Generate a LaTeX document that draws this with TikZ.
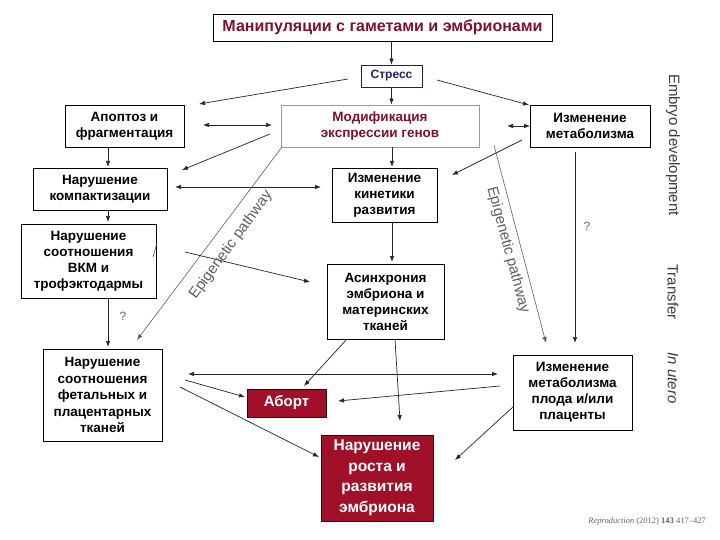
\documentclass[tikz,border=0pt]{standalone}
\usepackage{fontspec}
\setmainfont{Liberation Sans}
\newfontfamily\citefont{Liberation Serif}
\usetikzlibrary{arrows.meta}
\definecolor{maroon}{RGB}{128,16,48}
\definecolor{boxred}{RGB}{160,16,40}
\definecolor{pinkb}{RGB}{205,130,150}
\definecolor{navy}{RGB}{30,35,90}
\definecolor{lbl}{RGB}{60,60,60}
\definecolor{epi}{RGB}{95,95,95}
\begin{document}
\begin{tikzpicture}[x=1pt,y=-1pt,
  box/.style={draw=black, line width=0.9pt, fill=white, inner sep=0pt, align=center, font=\bfseries\fontsize{13.5}{16}\selectfont},
  redbox/.style={draw=black!70!boxred, fill=boxred, text=white, inner sep=0pt, align=center, line width=0.8pt},
  arr/.style={-{Latex[length=6pt,width=4.5pt]}, line width=0.7pt, draw=black!85},
  darr/.style={{Latex[length=6pt,width=4.5pt]}-{Latex[length=6pt,width=4.5pt]}, line width=0.7pt, draw=black!85},
  epiarr/.style={arr, draw=epi, line width=0.6pt},
  epitext/.style={text=epi, font=\fontsize{15}{15}\selectfont, inner sep=0pt},
  side/.style={text=lbl, rotate=-90, inner sep=0pt, font=\fontsize{15}{15}\selectfont},
  qmark/.style={text=black!60, inner sep=0pt, font=\fontsize{12}{12}\selectfont}]
\useasboundingbox (0,0) rectangle (720,540);
\fill[white] (0,0) rectangle (720,540);

% boxes
\node[box, text=maroon, font=\bfseries\fontsize{16}{18}\selectfont, minimum width=339pt, minimum height=27pt] (title) at (382.5,27.5) {Манипуляции с гаметами и эмбрионами};
\node[box, draw=navy, line width=0.7pt, text=navy, font=\bfseries\fontsize{12}{14}\selectfont, minimum width=61pt, minimum height=22pt] (stress) at (391.5,76) {Стресс};
\node[box, minimum width=119pt, minimum height=42pt] (apop) at (124.5,126) {Апоптоз и\\фрагментация};
\node[box, draw=pinkb, text=maroon, minimum width=198pt, minimum height=42pt] (modif) at (380,126) {Модификация\\экспрессии генов};
\node[box, minimum width=120pt, minimum height=42pt] (metab) at (590,126) {Изменение\\метаболизма};
\node[box, minimum width=134pt, minimum height=42pt] (compact) at (100,189) {Нарушение\\компактизации};
\node[box, minimum width=105pt, minimum height=54pt] (kinet) at (384.5,195) {Изменение\\кинетики\\развития};
\node[box, minimum width=135pt, minimum height=74pt] (icm) at (88.5,261) {Нарушение\\соотношения\\ВКМ и\\трофэктодармы};
\node[box, minimum width=117pt, minimum height=75pt] (async) at (385.5,301.5) {Асинхрония\\эмбриона и\\материнских\\тканей};
\node[box, font=\bfseries\fontsize{13.5}{16.5}\selectfont, minimum width=119pt, minimum height=92pt] (fetal) at (102.5,395) {Нарушение\\соотношения\\фетальных и\\плацентарных\\тканей};
\node[redbox, font=\bfseries\fontsize{15}{17}\selectfont, minimum width=79pt, minimum height=28pt] (abort) at (286.5,403) {Аборт};
\node[redbox, font=\bfseries\fontsize{15.5}{20.5}\selectfont, minimum width=112pt, minimum height=86pt] (growth) at (377,478) {Нарушение\\роста и\\развития\\эмбриона};
\node[box, minimum width=119pt, minimum height=75pt] (fmetab) at (572.5,392.5) {Изменение\\метаболизма\\плода и/или\\плаценты};

% free connector ends
\coordinate (sL) at (348,79);   \coordinate (sLe) at (199,104);
\coordinate (sR) at (437,80);   \coordinate (sRe) at (529,105);
\coordinate (am1) at (203,125); \coordinate (am2) at (272,125);
\coordinate (mm1) at (507,126); \coordinate (mm2) at (530,126);
\coordinate (ac1) at (108,147); \coordinate (ac2) at (108,167);
\coordinate (mc1) at (270,134); \coordinate (mc2) at (182,170);
\coordinate (ck1) at (175,187); \coordinate (ck2) at (321,187);
\coordinate (mk1) at (522,140); \coordinate (mk2) at (452,175);
\coordinate (ci1) at (108,210); \coordinate (ci2) at (108,222);
\coordinate (eL1) at (282,147); \coordinate (eL2) at (137,340);
\coordinate (x1) at (185,252);  \coordinate (x2) at (310,282);
\coordinate (t1) at (157,243);  \coordinate (t2) at (153,257);
\coordinate (if1) at (108,298); \coordinate (if2) at (108,347);
\coordinate (aa1) at (347,339); \coordinate (aa2) at (304,386);
\coordinate (ag1) at (395,339); \coordinate (ag2) at (400,421);
\coordinate (h1) at (188,374);  \coordinate (h2) at (498,374);
\coordinate (fa1) at (500,386); \coordinate (fa2) at (338,401);
\coordinate (pa1) at (185,380); \coordinate (pa2) at (245,397);
\coordinate (pg1) at (180,387); \coordinate (pg2) at (319,457);
\coordinate (fg1) at (513,407); \coordinate (fg2) at (455,460);
\coordinate (mf1) at (575,152); \coordinate (mf2) at (575,343);
\coordinate (eR1) at (494,145); \coordinate (eR2) at (546,343);
\coordinate (mk3) at (392,167); \coordinate (ka3) at (392,262);

% connectors
\draw[arr] (stress.north |- title.south) -- (stress.north);
\draw[arr] (stress.south) -- (stress.south |- modif.north);
\draw[arr] (sL) -- (sLe);
\draw[arr] (sR) -- (sRe);
\draw[darr] (am1) -- (am2);
\draw[darr] (mm1) -- (mm2);
\draw[arr] (ac1) -- (ac2);
\draw[arr] (mc1) -- (mc2);
\draw[darr] (ck1) -- (ck2);
\draw[arr] (modif.south -| mk3) -- (mk3);
\draw[arr] (mk1) -- (mk2);
\draw[arr] (ci1) -- (ci2);
\draw[arr] (kinet.south -| ka3) -- (ka3);
\draw[epiarr] (eL1) -- (eL2);
\draw[arr] (x1) -- (x2);
\draw[line width=0.6pt, black!70] (t1) -- (t2);
\draw[arr] (if1) -- (if2);
\draw[arr] (aa1) -- (aa2);
\draw[arr] (ag1) -- (ag2);
\draw[darr] (h1) -- (h2);
\draw[arr] (fa1) -- (fa2);
\draw[arr] (pa1) -- (pa2);
\draw[arr] (pg1) -- (pg2);
\draw[arr] (fg1) -- (fg2);
\draw[arr] (mf1) -- (mf2);
\draw[epiarr] (eR1) -- (eR2);

% labels
\node[qmark] (q1) at (123,316) {?};
\node[qmark] (q2) at (587,226) {?};
\node[epitext, rotate=54] (epiL) at (231,245) {Epigenetic pathway};
\node[epitext, rotate=-75] (epiR) at (508,250) {Epigenetic pathway};
\node[side] (embdev) at (673,145) {Embryo development};
\node[side] (transf) at (673,292) {Transfer};
\node[side, font=\itshape\fontsize{15}{15}\selectfont] (inutero) at (673,378) {In utero};
\node[anchor=east, inner sep=0pt, text=black!60, font=\citefont\fontsize{8.5}{10}\selectfont] (cite) at (706,521) {\itshape Reproduction \upshape (2012) \textbf{143} 417–427};
\end{tikzpicture}
\end{document}
